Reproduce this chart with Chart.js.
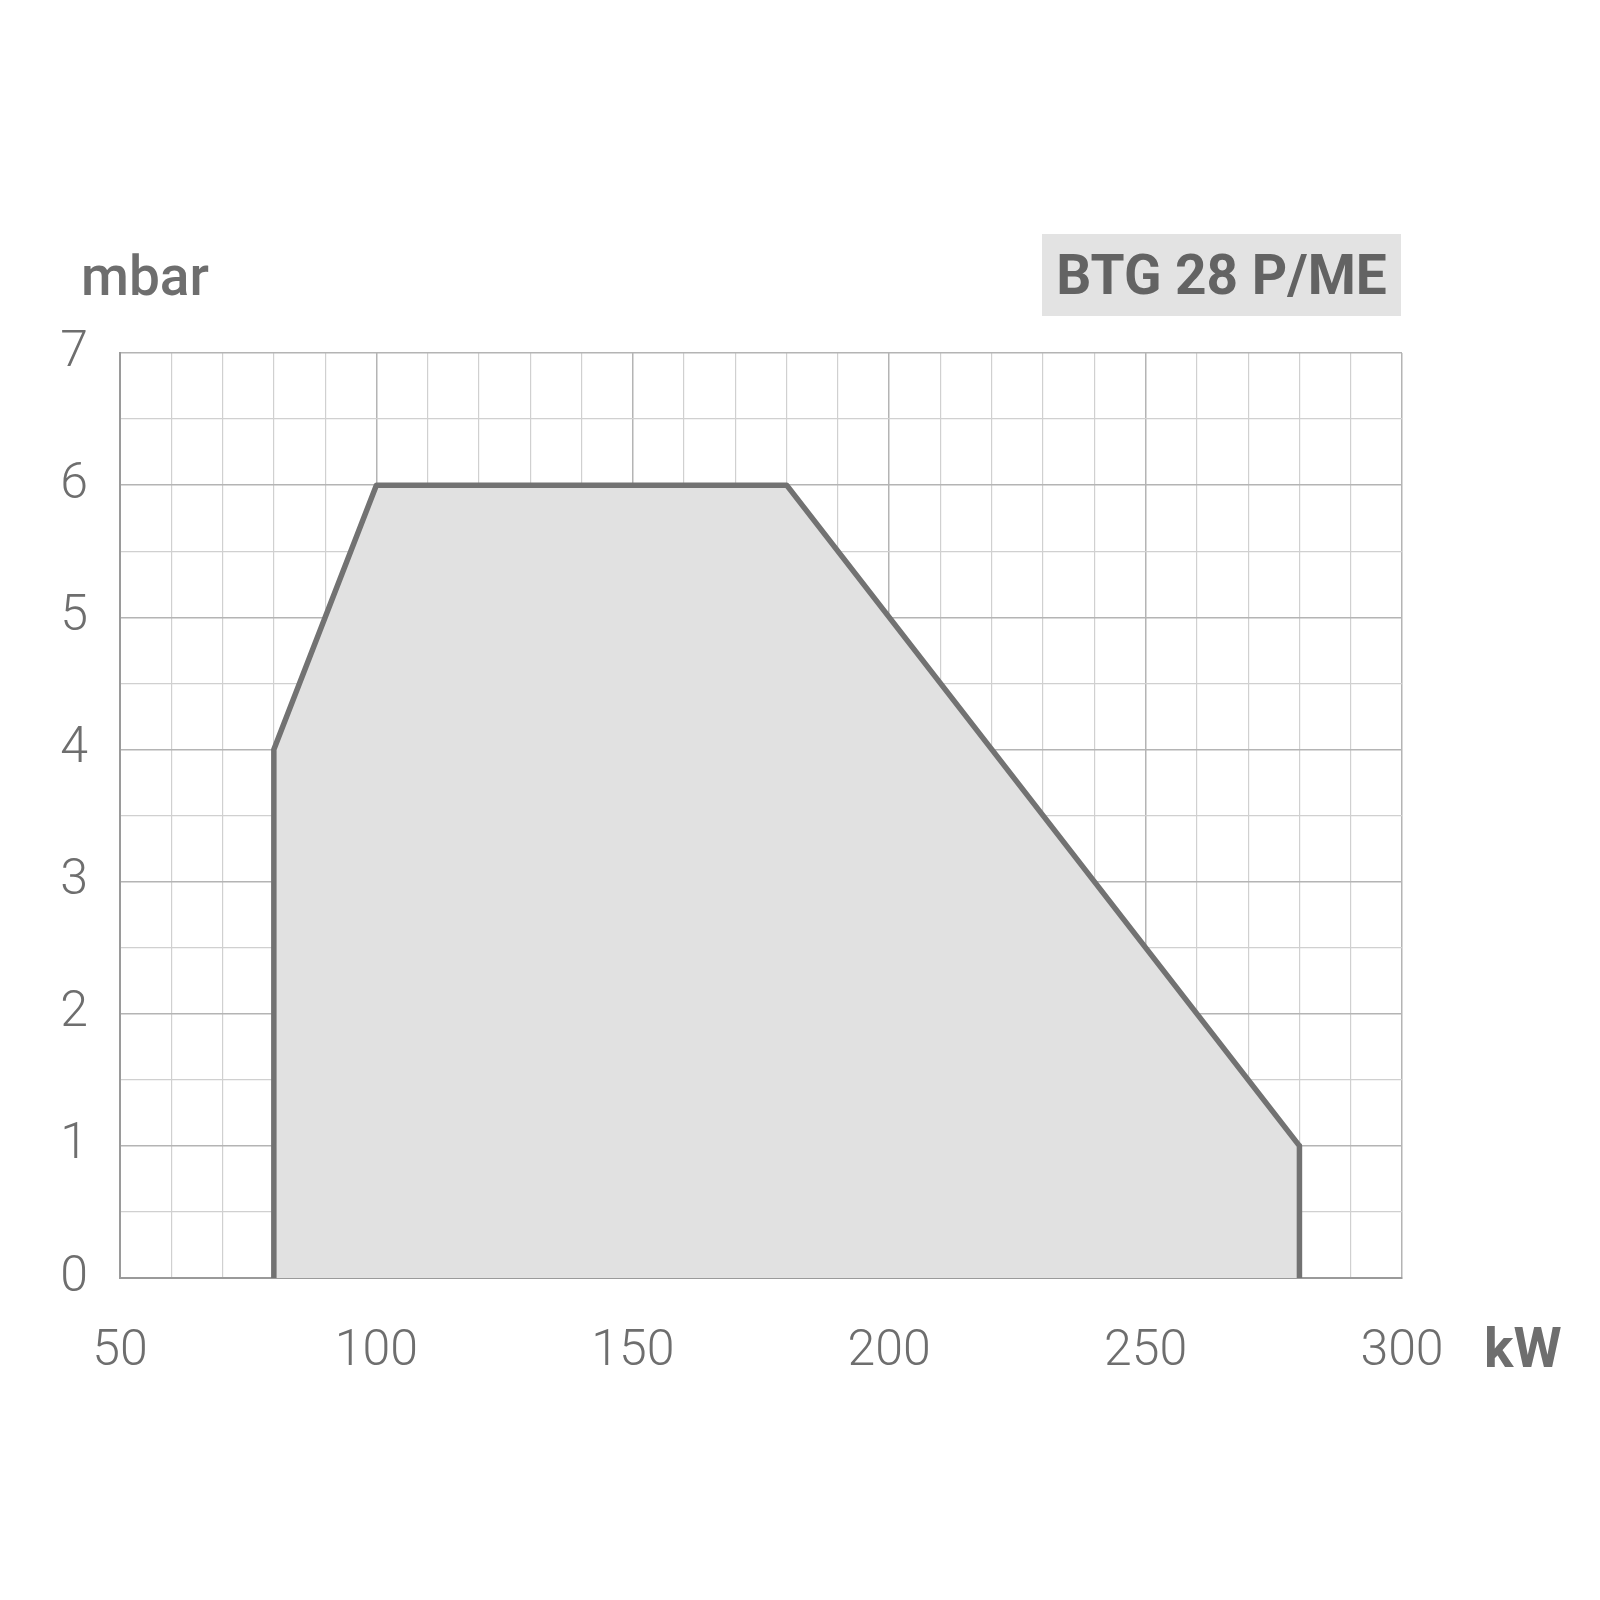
<!DOCTYPE html>
<html>
<head>
<meta charset="utf-8">
<script src="https://cdn.jsdelivr.net/npm/chart.js@4/dist/chart.umd.min.js"></script>
<style>
  html, body { margin: 0; padding: 0; background: #ffffff; }
  #wrap { position: relative; width: 1600px; height: 1600px; }
  canvas { position: absolute; left: 0; top: 0; }
  .lbl { position: absolute; color: #6e6e6e; font-family: Roboto, "DejaVu Sans", sans-serif; white-space: nowrap; }
  #unitY { left: 81px; top: 244px; font-size: 55px; font-weight: 500; line-height: 64px; }
  #unitX { left: 1484px; top: 1316px; font-size: 55px; font-weight: 700; line-height: 64px; }
  #titleBox { position: absolute; left: 1042px; top: 234px; width: 359px; height: 82px; background: #e3e3e3; }
  #title { left: 1042px; top: 234px; width: 359px; height: 82px; line-height: 82px; text-align: center; font-size: 55px; font-weight: 700; color: #636363; }
</style>
</head>
<body>
<div id="wrap">
  <canvas id="c" width="1600" height="1600"></canvas>
  <div id="titleBox"></div>
  <div class="lbl" id="title">BTG 28 P/ME</div>
  <div class="lbl" id="unitY">mbar</div>
  <div class="lbl" id="unitX">kW</div>
</div>
<script>
// Data
const powerKW = [80, 80, 100, 180, 280, 280];
const pressureMbar = [0, 4, 6, 6, 1, 0];
const xTickLabels = [50, 100, 150, 200, 250, 300];
const yTickLabels = [0, 1, 2, 3, 4, 5, 6, 7];
const titleText = "BTG 28 P/ME";
const xUnit = "kW";
const yUnit = "mbar";

document.getElementById('title').textContent = titleText;
document.getElementById('unitX').textContent = xUnit;
document.getElementById('unitY').textContent = yUnit;

const points = powerKW.map((x, i) => ({ x: x, y: pressureMbar[i] }));

const tickFont = { family: 'Roboto, "DejaVu Sans", sans-serif', size: 50, weight: 300 };

new Chart(document.getElementById('c'), {
  type: 'scatter',
  data: {
    datasets: [{
      data: points,
      showLine: true,
      borderColor: '#727272',
      borderWidth: 5.5,
      borderCapStyle: 'round',
      borderJoinStyle: 'round',
      backgroundColor: '#e1e1e1',
      fill: 'origin',
      pointRadius: 0,
      tension: 0
    }]
  },
  options: {
    responsive: false,
    animation: false,
    layout: { padding: { left: 0, top: 353, right: 198, bottom: 0 } },
    plugins: { legend: { display: false }, tooltip: { enabled: false } },
    scales: {
      x: {
        type: 'linear',
        min: 50, max: 300,
        afterFit: (axis) => { axis.height = 1600 - 1278; },
        border: { display: true, color: '#9a9a9a', width: 2 },
        grid: {
          drawTicks: false,
          color: (ctx) => (ctx.tick && ctx.tick.value % 50 === 0) ? '#b4b4b4' : '#d0d0d0',
          lineWidth: (ctx) => (ctx.tick && ctx.tick.value % 50 === 0) ? 1.5 : 1.2
        },
        ticks: {
          stepSize: 10,
          autoSkip: false,
          maxRotation: 0,
          padding: 44,
          color: '#6e6e6e',
          font: tickFont,
          callback: (v) => xTickLabels.includes(v) ? String(v) : ''
        }
      },
      y: {
        type: 'linear',
        min: 0, max: 7,
        afterFit: (axis) => { axis.width = 120; },
        border: { display: true, color: '#9a9a9a', width: 2 },
        grid: {
          drawTicks: false,
          color: (ctx) => (ctx.tick && Number.isInteger(ctx.tick.value)) ? '#b4b4b4' : '#d0d0d0',
          lineWidth: (ctx) => (ctx.tick && Number.isInteger(ctx.tick.value)) ? 1.5 : 1.2
        },
        ticks: {
          stepSize: 0.5,
          autoSkip: false,
          padding: 32,
          color: '#6e6e6e',
          font: tickFont,
          callback: (v) => yTickLabels.includes(v) ? String(v) : ''
        }
      }
    }
  }
});
</script>
</body>
</html>
